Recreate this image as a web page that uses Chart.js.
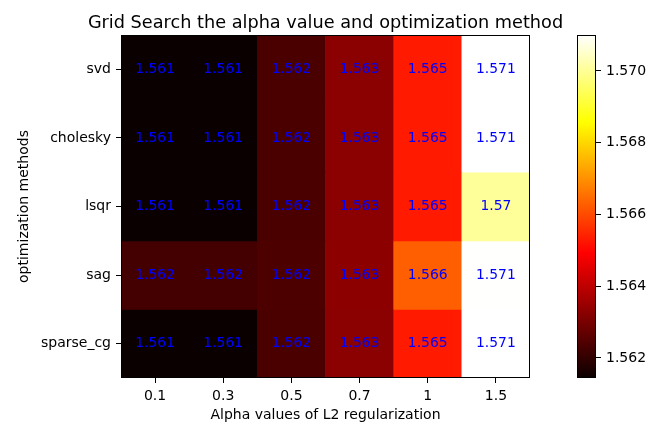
<!DOCTYPE html>
<html>
<head>
<meta charset="utf-8">
<script src="https://cdn.jsdelivr.net/npm/chart.js@4.4.0/dist/chart.umd.min.js"></script>
<style>
  html, body { margin: 0; padding: 0; background: #fff; }
  #wrap { position: relative; width: 661px; height: 424px; }
  #heat { position: absolute; left: 0; top: 0; }
  #cbar { position: absolute; left: 540px; top: 0; }
</style>
</head>
<body>
<div id="wrap">
  <canvas id="heat" width="661" height="424"></canvas>
  <canvas id="cbar" width="121" height="424"></canvas>
</div>
<script>
// Grid search scores, one row per optimization method
const alphas = ['0.1', '0.3', '0.5', '0.7', '1', '1.5'];
const methods = ['svd', 'cholesky', 'lsqr', 'sag', 'sparse_cg'];
const svdScores      = [1.56144, 1.56145, 1.56236, 1.56328, 1.56530, 1.57100];
const choleskyScores = [1.56144, 1.56145, 1.56236, 1.56328, 1.56530, 1.57100];
const lsqrScores     = [1.56144, 1.56145, 1.56236, 1.56328, 1.56530, 1.57003];
const sagScores      = [1.56226, 1.56226, 1.56237, 1.56329, 1.56628, 1.57098];
const sparseCgScores = [1.56144, 1.56145, 1.56236, 1.56328, 1.56530, 1.57100];
const colorbarTicks  = [1.562, 1.564, 1.566, 1.568, 1.570];

const scoreRows = [svdScores, choleskyScores, lsqrScores, sagScores, sparseCgScores];
const allScores = scoreRows.flat();
const vmin = Math.min(...allScores);
const vmax = Math.max(...allScores);

Chart.defaults.font.family = '"DejaVu Sans", sans-serif';
Chart.defaults.font.size = 14;
Chart.defaults.color = '#000';

// matplotlib 'hot' colormap
function hot(t) {
  t = Math.min(1, Math.max(0, t));
  const r = t < 0.365079 ? 0.0416 + (1 - 0.0416) * t / 0.365079 : 1;
  const g = t < 0.365079 ? 0 : (t < 0.746032 ? (t - 0.365079) / (0.746032 - 0.365079) : 1);
  const b = t < 0.746032 ? 0 : (t - 0.746032) / (1 - 0.746032);
  return `rgb(${Math.round(r * 255)},${Math.round(g * 255)},${Math.round(b * 255)})`;
}
const norm = v => (v - vmin) / (vmax - vmin);
const fmt = v => String(Number(v.toFixed(3)));

// box around the plot area, like matplotlib spines
const frame = {
  id: 'frame',
  afterDraw(chart) {
    const { ctx, chartArea: a } = chart;
    ctx.save();
    ctx.strokeStyle = '#000';
    ctx.lineWidth = 1;
    ctx.strokeRect(a.left + 0.5, a.top + 0.5, a.right - a.left - 1, a.bottom - a.top - 1);
    ctx.restore();
  }
};

// title centred over the plot area, allowed to be wider than it
const plotTitle = {
  id: 'plotTitle',
  afterDraw(chart) {
    const { ctx, chartArea: a } = chart;
    ctx.save();
    ctx.font = '17.7px "DejaVu Sans"';
    ctx.fillStyle = '#000';
    ctx.textAlign = 'center';
    ctx.textBaseline = 'alphabetic';
    ctx.fillText('Grid Search the alpha value and optimization method', (a.left + a.right) / 2, 28);
    ctx.restore();
  }
};

const cellLabels = {
  id: 'cellLabels',
  afterDatasetsDraw(chart) {
    const ctx = chart.ctx;
    ctx.save();
    ctx.font = '13.9px "DejaVu Sans"';
    ctx.fillStyle = '#0000ff';
    ctx.textAlign = 'center';
    ctx.textBaseline = 'middle';
    chart.data.datasets.forEach((ds, i) => {
      chart.getDatasetMeta(i).data.forEach((bar, j) => {
        const p = bar.getCenterPoint();
        ctx.fillText(fmt(scoreRows[i][j]), p.x, p.y);
      });
    });
    ctx.restore();
  }
};

const tickGrid = { drawOnChartArea: false, drawTicks: true, tickLength: 5, color: '#000', lineWidth: 1 };

new Chart(document.getElementById('heat'), {
  type: 'bar',
  data: {
    labels: alphas,
    datasets: methods.map((m, i) => ({
      label: m,
      data: alphas.map(() => [i - 0.5, i + 0.5]),
      backgroundColor: scoreRows[i].map(v => hot(norm(v))),
      borderWidth: 0,
      barPercentage: 1,
      categoryPercentage: 1,
      grouped: false
    }))
  },
  options: {
    responsive: false,
    animation: false,
    layout: { padding: { left: 0, right: 131, top: 35, bottom: 0 } },
    plugins: {
      legend: { display: false },
      tooltip: { enabled: false },
      title: { display: false }
    },
    scales: {
      x: {
        type: 'category',
        offset: true,
        grid: { ...tickGrid, offset: false },
        border: { display: false },
        ticks: { padding: 5, maxRotation: 0 },
        title: { display: true, text: 'Alpha values of L2 regularization', padding: { top: 0, bottom: 0 } },
        afterFit: s => { s.height = 46; }
      },
      y: {
        type: 'linear',
        min: -0.5,
        max: 4.5,
        reverse: true,
        grid: tickGrid,
        border: { display: false },
        ticks: { padding: 5, callback: v => methods[v] },
        afterBuildTicks: s => { s.ticks = methods.map((m, i) => ({ value: i })); },
        title: { display: true, text: 'optimization methods', padding: { top: 15.6, bottom: 0 } },
        afterFit: s => { s.width = 121; }
      }
    }
  },
  plugins: [cellLabels, frame, plotTitle]
});

// colorbar
new Chart(document.getElementById('cbar'), {
  type: 'bar',
  data: {
    labels: ['scale'],
    datasets: [{
      data: [[vmin, vmax]],
      backgroundColor: c => {
        const a = c.chart.chartArea;
        if (!a) return null;
        const g = c.chart.ctx.createLinearGradient(0, a.bottom, 0, a.top);
        [0, 0.365079, 0.746032, 1].forEach(s => g.addColorStop(s, hot(s)));
        return g;
      },
      borderWidth: 0,
      barPercentage: 1,
      categoryPercentage: 1
    }]
  },
  options: {
    responsive: false,
    animation: false,
    layout: { padding: { left: 37, right: 0, top: 35, bottom: 46 } },
    plugins: { legend: { display: false }, tooltip: { enabled: false } },
    scales: {
      x: { display: false },
      y: {
        type: 'linear',
        position: 'right',
        min: vmin,
        max: vmax,
        grid: tickGrid,
        border: { display: false },
        ticks: { padding: 5, callback: v => v.toFixed(3) },
        afterBuildTicks: s => { s.ticks = colorbarTicks.map(v => ({ value: v })); },
        afterFit: s => { s.width = 65; }
      }
    }
  },
  plugins: [frame]
});
</script>
</body>
</html>
